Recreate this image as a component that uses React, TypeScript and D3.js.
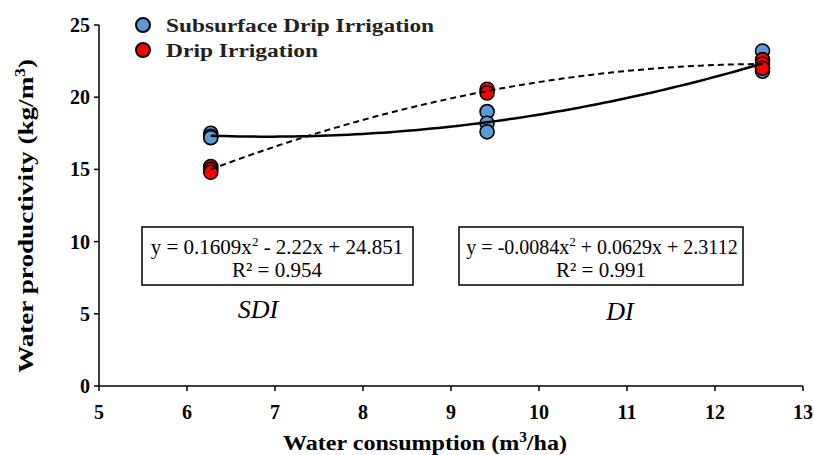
import React from "react";
import * as d3 from "d3";

const sdiX = [6.27, 6.27, 6.27, 9.41, 9.41, 9.41, 12.54, 12.54, 12.54];
const sdiY = [17.5, 17.3, 17.2, 19.0, 18.2, 17.6, 23.2, 22.0, 21.8];
const diX = [6.27, 6.27, 6.27, 9.41, 9.41, 12.54, 12.54, 12.54];
const diY = [15.2, 15.0, 14.8, 20.55, 20.3, 22.6, 22.3, 22.0];
const xTicks = [5, 6, 7, 8, 9, 10, 11, 12, 13];
const yTicks = [0, 5, 10, 15, 20, 25];
const legendLabels = ["Subsurface Drip Irrigation", "Drip Irrigation"];
const eqSDI = ["y = 0.1609x", "2", " - 2.22x + 24.851"];
const eqDI = ["y = -0.0084x", "2", " + 0.0629x + 2.3112"];
const r2SDI = "0.954";
const r2DI = "0.991";

function fitQuad(xs: number[], ys: number[]) {
  const s = [0, 0, 0, 0, 0];
  const t = [0, 0, 0];
  xs.forEach((x, i) => {
    for (let k = 0; k < 5; k++) s[k] += Math.pow(x, k);
    for (let k = 0; k < 3; k++) t[k] += Math.pow(x, k) * ys[i];
  });
  const A = [
    [s[0], s[1], s[2], t[0]],
    [s[1], s[2], s[3], t[1]],
    [s[2], s[3], s[4], t[2]],
  ];
  for (let i = 0; i < 3; i++) {
    for (let j = i + 1; j < 3; j++) {
      const f = A[j][i] / A[i][i];
      for (let k = i; k < 4; k++) A[j][k] -= f * A[i][k];
    }
  }
  const c = [0, 0, 0];
  for (let i = 2; i >= 0; i--) {
    let v = A[i][3];
    for (let k = i + 1; k < 3; k++) v -= A[i][k] * c[k];
    c[i] = v / A[i][i];
  }
  return (x: number) => c[0] + c[1] * x + c[2] * x * x;
}

const W = 814;
const H = 455;

export default function App() {
  const x = d3.scaleLinear().domain([5, 13]).range([99, 803]);
  const y = d3.scaleLinear().domain([0, 25]).range([386, 25]);
  const serif = "Liberation Serif, DejaVu Serif, serif";

  const curve = (xs: number[], ys: number[]) => {
    const f = fitQuad(xs, ys);
    const [lo, hi] = d3.extent(xs) as [number, number];
    const pts = d3.range(0, 81).map((i) => lo + ((hi - lo) * i) / 80);
    return d3
      .line<number>()
      .x((d) => x(d))
      .y((d) => y(f(d)))(pts) as string;
  };

  const blue = "#5b9bd5";
  const red = "#ff0000";
  const tstyle = { fontFamily: serif };

  return (
    <svg
      width={W}
      height={H}
      style={{ position: "absolute", left: 0, top: 0, background: "#fff", fontFamily: serif }}
    >
      {/* axes */}
      <line x1={x(5)} x2={x(13)} y1={y(0)} y2={y(0)} stroke="#000" strokeWidth={1.5} />
      <line x1={x(5)} x2={x(5)} y1={y(0)} y2={y(25)} stroke="#000" strokeWidth={1.5} />
      {xTicks.map((t) => (
        <g key={"xt" + t}>
          <line x1={x(t)} x2={x(t)} y1={y(0)} y2={y(0) + 5} stroke="#000" strokeWidth={1.5} />
          <text x={x(t)} y={419} textAnchor="middle" style={tstyle} fontWeight="bold" fontSize={20}>
            {t}
          </text>
        </g>
      ))}
      {yTicks.map((t) => (
        <g key={"yt" + t}>
          <line x1={x(5) - 5} x2={x(5)} y1={y(t)} y2={y(t)} stroke="#000" strokeWidth={1.5} />
          <text x={90} y={y(t) + 7} textAnchor="end" style={tstyle} fontWeight="bold" fontSize={20}>
            {t}
          </text>
        </g>
      ))}
      <text
        transform="translate(33,216) rotate(-90)"
        textAnchor="middle"
        style={tstyle}
        fontWeight="bold"
        fontSize={22}
        textLength={314}
        lengthAdjust="spacingAndGlyphs"
      >
        Water productivity (kg/m<tspan dy={-8} fontSize={14}>3</tspan><tspan dy={8}>)</tspan>
      </text>
      <text
        x={425}
        y={450}
        textAnchor="middle"
        style={tstyle}
        fontWeight="bold"
        fontSize={22}
        textLength={284}
        lengthAdjust="spacingAndGlyphs"
      >
        Water consumption (m<tspan dy={-8} fontSize={14}>3</tspan><tspan dy={8}>/ha)</tspan>
      </text>

      {/* points */}
      {sdiX.map((d, i) => (
        <circle key={"b" + i} cx={x(d)} cy={y(sdiY[i])} r={7} fill={blue} stroke="#000" strokeWidth={1.6} />
      ))}
      {diX.map((d, i) => (
        <circle key={"r" + i} cx={x(d)} cy={y(diY[i])} r={7} fill={red} stroke="#000" strokeWidth={1.6} />
      ))}

      {/* trendlines */}
      <path d={curve(sdiX, sdiY)} fill="none" stroke="#000" strokeWidth={2.5} />
      <path d={curve(diX, diY)} fill="none" stroke="#000" strokeWidth={2} strokeDasharray="6,4" />

      {/* equation boxes */}
      <rect x={142} y={227} width={271} height={58} fill="#fff" stroke="#000" strokeWidth={1.5} />
      <text x={277} y={254} textAnchor="middle" style={tstyle} fontSize={21}>
        {eqSDI[0]}
        <tspan dy={-8} fontSize={13}>{eqSDI[1]}</tspan>
        <tspan dy={8}>{eqSDI[2]}</tspan>
      </text>
      <text x={277} y={277} textAnchor="middle" style={tstyle} fontSize={21}>
        R² = {r2SDI}
      </text>
      <rect x={459} y={227} width={284} height={58} fill="#fff" stroke="#000" strokeWidth={1.5} />
      <text x={602} y={254} textAnchor="middle" style={tstyle} fontSize={20}>
        {eqDI[0]}
        <tspan dy={-8} fontSize={13}>{eqDI[1]}</tspan>
        <tspan dy={8}>{eqDI[2]}</tspan>
      </text>
      <text x={601} y={277} textAnchor="middle" style={tstyle} fontSize={21}>
        R² = {r2DI}
      </text>
      <text x={258} y={318} textAnchor="middle" style={tstyle} fontStyle="italic" fontSize={26}>
        SDI
      </text>
      <text x={620} y={320} textAnchor="middle" style={tstyle} fontStyle="italic" fontSize={26}>
        DI
      </text>

      {/* legend */}
      <circle cx={143} cy={25} r={7} fill={blue} stroke="#000" strokeWidth={2} />
      <circle cx={143} cy={50} r={7} fill={red} stroke="#000" strokeWidth={2} />
      <text
        x={166}
        y={32}
        style={tstyle}
        fontWeight="bold"
        fontSize={18}
        fill="#222"
        textLength={268}
        lengthAdjust="spacingAndGlyphs"
      >
        {legendLabels[0]}
      </text>
      <text
        x={166}
        y={57}
        style={tstyle}
        fontWeight="bold"
        fontSize={18}
        fill="#222"
        textLength={152}
        lengthAdjust="spacingAndGlyphs"
      >
        {legendLabels[1]}
      </text>
    </svg>
  );
}
